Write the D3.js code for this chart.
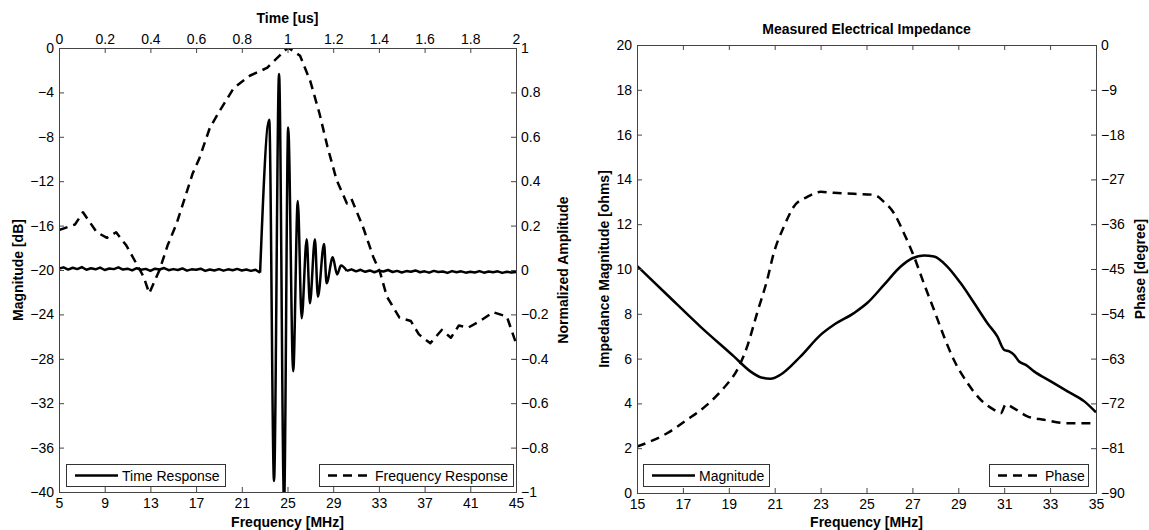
<!DOCTYPE html>
<html>
<head>
<meta charset="utf-8">
<script src="https://cdn.jsdelivr.net/npm/d3@7"></script>
<style>
body { margin: 0; background: #fff; }
svg text { font-family: "Liberation Sans", Arial, sans-serif; fill: #000; }
.tick text { font-size: 14px; }
.tick line { stroke: #444; }
.lbl { font-size: 14px; font-weight: bold; }
.legend text { font-size: 14px; }
</style>
</head>
<body>
<svg id="chart" width="1149" height="530"></svg>
<script>
(function() {

// tick values
var freqTicksLeft = [5, 9, 13, 17, 21, 25, 29, 33, 37, 41, 45];
var timeTicks = [0, 0.2, 0.4, 0.6, 0.8, 1, 1.2, 1.4, 1.6, 1.8, 2];
var dbTicks = [0, -4, -8, -12, -16, -20, -24, -28, -32, -36, -40];
var ampTicks = [1, 0.8, 0.6, 0.4, 0.2, 0, -0.2, -0.4, -0.6, -0.8, -1];
var freqTicksRight = [15, 17, 19, 21, 23, 25, 27, 29, 31, 33, 35];
var ohmTicks = [0, 2, 4, 6, 8, 10, 12, 14, 16, 18, 20];
var phaseTicks = [0, -9, -18, -27, -36, -45, -54, -63, -72, -81, -90];

// time response [us, normalized amplitude]
var timeResponse = [
  [0.00, 0.006], [0.02, 0.012], [0.04, 0.002], [0.06, 0.010], [0.08, 0.004], [0.10, 0.013],
  [0.12, 0.001], [0.14, 0.008], [0.16, 0.003], [0.18, 0.011], [0.20, 0.000], [0.22, 0.007],
  [0.24, 0.004], [0.26, 0.012], [0.28, 0.002], [0.30, 0.006], [0.32, -0.002], [0.34, 0.008],
  [0.36, 0.001], [0.38, 0.005], [0.40, -0.004], [0.42, 0.006], [0.44, 0.002], [0.46, 0.009],
  [0.48, -0.001], [0.50, 0.004], [0.52, 0.000], [0.54, 0.007], [0.56, -0.003], [0.58, 0.003],
  [0.60, 0.001], [0.62, 0.006], [0.64, -0.004], [0.66, 0.002], [0.68, -0.002], [0.70, 0.004],
  [0.72, -0.003], [0.74, 0.003], [0.76, -0.001], [0.78, 0.005], [0.80, -0.002], [0.82, 0.002],
  [0.84, -0.004], [0.86, 0.001], [0.88, -0.012],
  [0.920, 0.677], [0.941, -0.95], [0.963, 0.883], [0.985, -1.05], [1.003, 0.642],
  [1.025, -0.456], [1.045, 0.311], [1.062, -0.217], [1.084, 0.138], [1.098, -0.15],
  [1.120, 0.138], [1.133, -0.12], [1.160, 0.117], [1.171, -0.06], [1.198, 0.057],
  [1.217, -0.02], [1.234, 0.02],
  [1.26, -0.004], [1.28, 0.003], [1.30, -0.006], [1.32, 0.001], [1.34, -0.008], [1.36, -0.002],
  [1.38, -0.010], [1.40, -0.003], [1.42, -0.007], [1.44, 0.000], [1.46, -0.009], [1.48, -0.004],
  [1.50, -0.011], [1.52, -0.005], [1.54, -0.008], [1.56, -0.002], [1.58, -0.010], [1.60, -0.006],
  [1.62, -0.012], [1.64, -0.004], [1.66, -0.009], [1.68, -0.007], [1.70, -0.013], [1.72, -0.005],
  [1.74, -0.010], [1.76, -0.006], [1.78, -0.012], [1.80, -0.008], [1.82, -0.011], [1.84, -0.005],
  [1.86, -0.012], [1.88, -0.007], [1.90, -0.010], [1.92, -0.006], [1.94, -0.013], [1.96, -0.008],
  [1.98, -0.011], [2.00, -0.009]
];
// the ringing part of the time response, between the noisy baselines
var pulseStart = 0.88, pulseEnd = 1.26;

// frequency response [MHz, dB]
var freqResponse = [
  [5, -16.4], [6.4, -15.9], [7.1, -14.8], [8.3, -16.6], [9.2, -17.1], [10.0, -16.6],
  [10.9, -17.8], [11.6, -19.1], [12.4, -20.6], [12.9, -22.1], [13.8, -20.0], [14.5, -17.8],
  [15.3, -15.8], [16.7, -11.3], [17.3, -9.9], [18.2, -7.2], [19.1, -5.6], [20.3, -3.6],
  [21.7, -2.5], [23.2, -1.8], [24.9, -0.1], [25.1, 0], [26.1, -0.7], [27.0, -3.0],
  [27.8, -5.9], [28.5, -8.9], [29.3, -11.9], [30.2, -14.0], [30.6, -13.6], [31.6, -16.1],
  [32.5, -18.8], [33.1, -20.2], [33.7, -22.4], [34.8, -24.3], [35.8, -24.6], [36.5, -25.8],
  [37.5, -26.6], [38.5, -25.4], [39.3, -26.1], [40.0, -25.0], [40.8, -25.2], [42.0, -24.5],
  [43.0, -23.8], [44.2, -24.2], [45, -26.6]
];

// impedance magnitude [MHz, ohms]
var magnitude = [
  [15, 10.14], [16.31, 8.85], [17.76, 7.43], [19.22, 6.10], [19.94, 5.43], [20.38, 5.17],
  [20.82, 5.10], [21.25, 5.28], [22.13, 6.10], [23.0, 7.06], [23.58, 7.51], [24.45, 8.03],
  [25.03, 8.48], [25.76, 9.29], [26.49, 10.11], [27.0, 10.48], [27.5, 10.6], [27.94, 10.56],
  [28.52, 10.11], [29.1, 9.37], [29.69, 8.48], [30.27, 7.58], [30.7, 6.99], [31.0, 6.39],
  [31.22, 6.32], [31.43, 6.17], [31.65, 5.87], [31.94, 5.72], [32.3, 5.43], [33.03, 4.98],
  [33.76, 4.54], [34.49, 4.09], [35, 3.6]
];

// impedance phase [MHz, degree]
var phase = [
  [15, -80.7], [16.31, -78.0], [17.18, -75.3], [18.05, -72.3], [18.78, -68.9], [19.36, -65.3],
  [19.8, -60.6], [20.23, -53.9], [20.67, -47.2], [20.96, -41.8], [21.4, -36.5], [21.83, -32.5],
  [22.42, -30.5], [23.0, -29.5], [23.58, -29.7], [24.45, -29.9], [25.32, -30.1], [25.76, -31.5],
  [26.2, -33.8], [26.63, -37.8], [27.07, -42.5], [27.5, -47.9], [27.94, -53.2], [28.38, -58.6],
  [28.81, -63.3], [29.4, -67.9], [29.98, -71.3], [30.56, -73.3], [30.85, -74.0], [31.07, -72.2],
  [31.43, -73.0], [32.01, -74.6], [32.74, -75.3], [33.76, -76.0], [35, -76.0]
];

var svg = d3.select('#chart');
var fmt = d3.format('~g');
var dash = '9,6';

var L = {left: 59, right: 516, top: 48, bottom: 492};
var R = {left: 637, right: 1096, top: 45, bottom: 493};

function clean(g) {
    g.select('.domain').remove();
}

function clip(id, b) {
    svg.append('clipPath').attr('id', id)
      .append('rect')
        .attr('x', b.left).attr('y', b.top)
        .attr('width', b.right - b.left).attr('height', b.bottom - b.top);
}

function drawLine(data, x, y, clipId, dashed, curve) {
    var line = d3.line()
        .x(function(d) { return x(d[0]); })
        .y(function(d) { return y(d[1]); })
        .curve(curve || d3.curveLinear);
    svg.append('path')
        .datum(data)
        .attr('clip-path', 'url(#' + clipId + ')')
        .attr('fill', 'none')
        .attr('stroke', '#000')
        .attr('stroke-width', 2.5)
        .attr('stroke-linejoin', 'round')
        .attr('stroke-dasharray', dashed ? dash : null)
        .attr('d', line);
}

function box(b) {
    svg.append('rect')
        .attr('x', b.left + 0.5).attr('y', b.top + 0.5)
        .attr('width', b.right - b.left).attr('height', b.bottom - b.top)
        .attr('fill', 'none').attr('stroke', '#444').attr('stroke-width', 1);
}

function legend(x0, y0, w, label, dashed) {
    var g = svg.append('g').attr('class', 'legend');
    g.append('rect')
        .attr('x', x0 + 0.5).attr('y', y0 + 0.5)
        .attr('width', w).attr('height', 22)
        .attr('fill', '#fff').attr('stroke', '#333');
    g.append('line')
        .attr('x1', x0 + 9).attr('x2', x0 + 52)
        .attr('y1', y0 + 11.5).attr('y2', y0 + 11.5)
        .attr('stroke', '#000').attr('stroke-width', 2.5)
        .attr('stroke-dasharray', dashed ? dash : null);
    g.append('text')
        .attr('x', x0 + 56).attr('y', y0 + 16.5)
        .text(label);
}

function ylabel(x, y, text) {
    svg.append('text')
        .attr('class', 'lbl')
        .attr('text-anchor', 'middle')
        .attr('transform', 'translate(' + x + ',' + y + ') rotate(-90)')
        .text(text);
}

// ---- left panel: time and frequency response
var xFreqL = d3.scaleLinear().domain([5, 45]).range([L.left, L.right]);
var xTime = d3.scaleLinear().domain([0, 2]).range([L.left, L.right]);
var yDb = d3.scaleLinear().domain([-40, 0]).range([L.bottom, L.top]);
var yAmp = d3.scaleLinear().domain([-1, 1]).range([L.bottom, L.top]);

clip('clipL', L);
drawLine(freqResponse, xFreqL, yDb, 'clipL', true);

// noisy baseline drawn straight, the ringing smoothed
var before = timeResponse.filter(function(d) { return d[0] <= pulseStart; });
var pulse = timeResponse.filter(function(d) { return d[0] >= pulseStart && d[0] <= pulseEnd; });
var after = timeResponse.filter(function(d) { return d[0] >= pulseEnd; });
drawLine(before, xTime, yAmp, 'clipL', false);
drawLine(pulse, xTime, yAmp, 'clipL', false, d3.curveMonotoneX);
drawLine(after, xTime, yAmp, 'clipL', false);
box(L);

svg.append('g')
    .attr('transform', 'translate(0,' + L.bottom + ')')
    .call(d3.axisBottom(xFreqL).tickValues(freqTicksLeft).tickFormat(fmt).tickSize(-5).tickPadding(6))
    .call(clean);
svg.append('g')
    .attr('transform', 'translate(0,' + L.top + ')')
    .call(d3.axisTop(xTime).tickValues(timeTicks).tickFormat(fmt).tickSize(-5).tickPadding(4))
    .call(clean);
svg.append('g')
    .attr('transform', 'translate(' + L.left + ',0)')
    .call(d3.axisLeft(yDb).tickValues(dbTicks).tickFormat(fmt).tickSize(-5).tickPadding(5))
    .call(clean);
svg.append('g')
    .attr('transform', 'translate(' + L.right + ',0)')
    .call(d3.axisRight(yAmp).tickValues(ampTicks).tickFormat(fmt).tickSize(-5).tickPadding(5))
    .call(clean);

svg.append('text').attr('class', 'lbl').attr('text-anchor', 'middle')
    .attr('x', (L.left + L.right) / 2).attr('y', 23).text('Time [us]');
svg.append('text').attr('class', 'lbl').attr('text-anchor', 'middle')
    .attr('x', (L.left + L.right) / 2).attr('y', 527).text('Frequency [MHz]');
ylabel(23, (L.top + L.bottom) / 2, 'Magnitude [dB]');
ylabel(568, (L.top + L.bottom) / 2, 'Normalized Amplitude');

legend(66, 464, 159, 'Time Response', false);
legend(319, 464, 194, 'Frequency Response', true);

// ---- right panel: impedance
var xFreqR = d3.scaleLinear().domain([15, 35]).range([R.left, R.right]);
var yOhm = d3.scaleLinear().domain([0, 20]).range([R.bottom, R.top]);
var yPhase = d3.scaleLinear().domain([-90, 0]).range([R.bottom, R.top]);

clip('clipR', R);
drawLine(magnitude, xFreqR, yOhm, 'clipR', false, d3.curveMonotoneX);
drawLine(phase, xFreqR, yPhase, 'clipR', true, d3.curveMonotoneX);
box(R);

svg.append('g')
    .attr('transform', 'translate(0,' + R.bottom + ')')
    .call(d3.axisBottom(xFreqR).tickValues(freqTicksRight).tickFormat(fmt).tickSize(-5).tickPadding(6))
    .call(clean);
svg.append('g')
    .attr('transform', 'translate(0,' + R.top + ')')
    .call(d3.axisTop(xFreqR).tickValues(freqTicksRight).tickFormat('').tickSize(-5))
    .call(clean);
svg.append('g')
    .attr('transform', 'translate(' + R.left + ',0)')
    .call(d3.axisLeft(yOhm).tickValues(ohmTicks).tickFormat(fmt).tickSize(-5).tickPadding(5))
    .call(clean);
svg.append('g')
    .attr('transform', 'translate(' + R.right + ',0)')
    .call(d3.axisRight(yPhase).tickValues(phaseTicks).tickFormat(fmt).tickSize(-5).tickPadding(5))
    .call(clean);

svg.append('text').attr('class', 'lbl').attr('text-anchor', 'middle')
    .attr('x', (R.left + R.right) / 2).attr('y', 34).text('Measured Electrical Impedance');
svg.append('text').attr('class', 'lbl').attr('text-anchor', 'middle')
    .attr('x', (R.left + R.right) / 2).attr('y', 527).text('Frequency [MHz]');
ylabel(609, (R.top + R.bottom) / 2, 'Impedance Magnitude [ohms]');
ylabel(1145, (R.top + R.bottom) / 2, 'Phase [degree]');

legend(643, 464, 126, 'Magnitude', false);
legend(989, 464, 99, 'Phase', true);

})();
</script>
</body>
</html>
